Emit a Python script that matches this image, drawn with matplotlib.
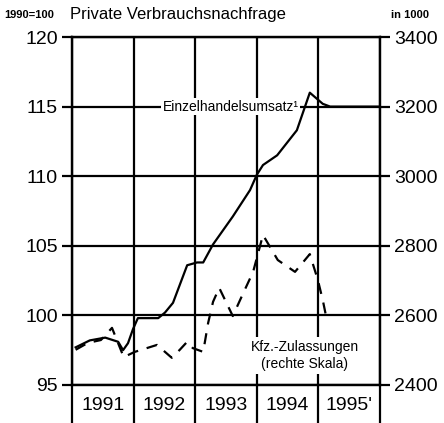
import numpy as np
import matplotlib.pyplot as plt
from matplotlib.ticker import FixedLocator, NullFormatter

plt.rcParams['font.family'] = ['Liberation Sans', 'DejaVu Sans']

# Einzelhandelsumsatz (1990=100), left scale
einzel_t = [1991.06, 1991.29, 1991.54, 1991.75, 1991.83, 1991.91, 1991.99, 1992.07,
            1992.40, 1992.51, 1992.64, 1992.87, 1993.03, 1993.13, 1993.29, 1993.61,
            1993.89, 1994.00, 1994.10, 1994.33, 1994.65, 1994.86, 1995.07, 1995.19, 1996.0]
einzel_v = [97.7, 98.2, 98.4, 98.1, 97.5, 98.0, 99.0, 99.8,
            99.8, 100.2, 100.9, 103.6, 103.8, 103.8, 105.1, 107.1,
            109.0, 110.1, 110.8, 111.5, 113.3, 116.0, 115.2, 115.0, 115.0]

# Kfz-Zulassungen (in 1000), right scale
kfz_t = [1991.06, 1991.26, 1991.47, 1991.65, 1991.84, 1992.02, 1992.38, 1992.62,
         1992.75, 1992.87, 1992.96, 1993.13, 1993.21, 1993.29, 1993.39, 1993.61,
         1993.78, 1993.94, 1994.10, 1994.34, 1994.62, 1994.86, 1994.99, 1995.07, 1995.12]
kfz_v = [2501, 2521, 2529, 2564, 2480, 2495, 2515, 2478,
         2501, 2524, 2506, 2495, 2578, 2639, 2679, 2598,
         2664, 2725, 2831, 2759, 2725, 2776, 2702, 2644, 2601]

years = [1991, 1992, 1993, 1994, 1995]
year_labels = ['1991', '1992', '1993', '1994', "1995'"]
left_ticks = [95, 100, 105, 110, 115, 120]
right_ticks = [2400, 2600, 2800, 3000, 3200, 3400]

fig = plt.figure(figsize=(4.44, 4.23), dpi=100)
ax = fig.add_axes([0.162, 0.09, 0.694, 0.8225])
ax.set_xlim(1991, 1996)
ax.set_ylim(95, 120)

ax.set_yticks(left_ticks)
ax.tick_params(axis='y', direction='out', length=7, width=1.6, pad=3, labelsize=14)

ax.xaxis.set_major_locator(FixedLocator(years + [1996]))
ax.xaxis.set_major_formatter(NullFormatter())
ax.xaxis.set_minor_locator(FixedLocator([y + 0.5 for y in years]))
ax.set_xticklabels(year_labels, minor=True)
ax.tick_params(axis='x', which='major', direction='out', length=28, width=1.6)
ax.tick_params(axis='x', which='minor', length=0, pad=9, labelsize=14)

ax.grid(True, which='major', color='black', linewidth=1.6)
for s in ax.spines.values():
    s.set_linewidth(1.6)

ax.plot(einzel_t, einzel_v, color='black', linewidth=1.6, zorder=3)

ax2 = ax.twinx()
ax2.set_ylim(2400, 3400)
ax2.set_yticks(right_ticks)
ax2.tick_params(axis='y', direction='out', length=7, width=1.6, pad=3, labelsize=14)
for s in ax2.spines.values():
    s.set_linewidth(1.6)
ax2.plot(kfz_t, kfz_v, color='black', linewidth=1.6, linestyle=(0, (5, 4)), zorder=3)

ax2.text(1994.78, 2484, 'Kfz.-Zulassungen\n(rechte Skala)', ha='center', va='center',
         fontsize=10, linespacing=1.3, bbox=dict(facecolor='white', edgecolor='none', pad=2), zorder=4)
ax.text(1994.68, 115, 'Einzelhandelsumsatz¹', ha='right', va='center', fontsize=10,
        bbox=dict(facecolor='white', edgecolor='none', pad=1), zorder=4)

fig.text(0.01, 0.965, '1990=100', fontsize=8, fontweight='bold', va='center')
fig.text(0.158, 0.965, 'Private Verbrauchsnachfrage', fontsize=12, va='center')
fig.text(0.88, 0.965, 'in 1000', fontsize=8, fontweight='bold', va='center')

fig.savefig('out.png', dpi=100)
